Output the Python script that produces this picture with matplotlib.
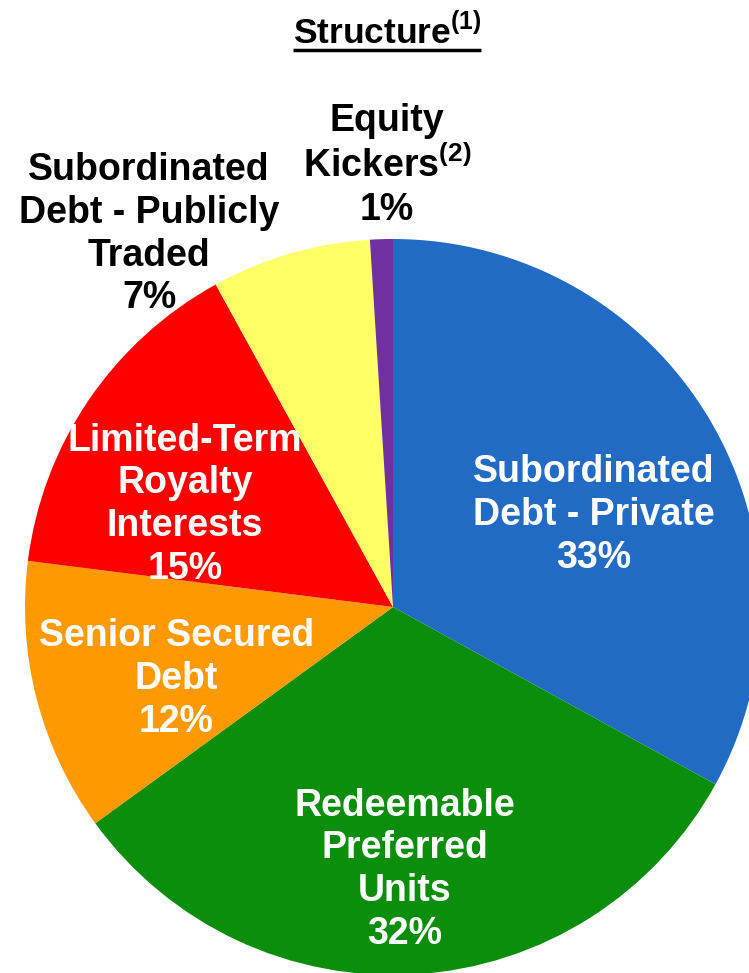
import numpy as np
import matplotlib.pyplot as plt

plt.rcParams['font.family'] = ['Liberation Sans', 'DejaVu Sans']
plt.rcParams['mathtext.fontset'] = 'custom'
plt.rcParams['mathtext.rm'] = 'Liberation Sans'
plt.rcParams['mathtext.bf'] = 'Liberation Sans:bold'

# slices, clockwise from 12 o'clock
labels = ['Subordinated\nDebt - Private', 'Redeemable\nPreferred\nUnits', 'Senior Secured\nDebt',
          'Limited-Term\nRoyalty\nInterests', 'Subordinated\nDebt - Publicly\nTraded',
          'Equity\nKickers$^{\\mathbf{(2)}}$']
shares = [33, 32, 12, 15, 7, 1]
colors = ['#216BC5', '#0B8E0B', '#FF9900', '#FF0000', '#FFFF66', '#7030A0']
text_colors = ['white', 'white', 'white', 'white', 'black', 'black']
# label placement: radial distance (fraction of radius) and angle nudge (deg)
label_dist = [0.60, 0.715, 0.62, 0.63, 1.21, 1.20]
label_nudge = [-6, -1, 4, 8, 17, -1]

W, H = 749, 973
fig = plt.figure(figsize=(W / 100, H / 100), dpi=100)
ax = fig.add_axes([0, 0, 1, 1])

cx, cy, r = 393, H - 607, 368
wedges, _ = ax.pie(shares, colors=colors, startangle=90, counterclock=False,
                   center=(cx, cy), radius=r, wedgeprops=dict(linewidth=0),
                   frame=True)
ax.set_xlim(0, W)
ax.set_ylim(0, H)
ax.axis('off')

for w, lab, v, tc, d, nd in zip(wedges, labels, shares, text_colors, label_dist, label_nudge):
    ang = np.deg2rad((w.theta1 + w.theta2) / 2 + nd)
    x = cx + d * r * np.cos(ang)
    y = cy + d * r * np.sin(ang)
    ax.text(x, y, f'{lab}\n{v}%', ha='center', va='center', color=tc,
            fontsize=27, fontweight='bold', linespacing=1.24, multialignment='center')

title = fig.text(387 / W, 1 - 31 / H, 'Structure$^{\\mathbf{(1)}}$', ha='center', va='center',
                 fontsize=25.5, fontweight='bold')
fig.canvas.draw()
bb = title.get_window_extent()
ax.plot([bb.x0, bb.x1], [H - 50, H - 50], color='black', linewidth=2.5, solid_capstyle='butt')

fig.savefig('out.png', dpi=100)
